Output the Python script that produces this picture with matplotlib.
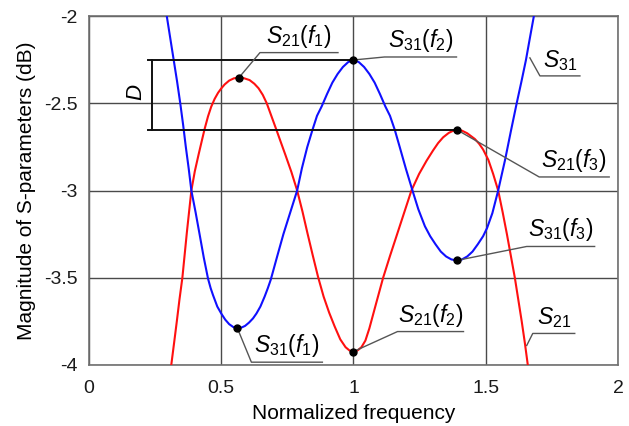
import numpy as np
import matplotlib
matplotlib.use("Agg")
import matplotlib.pyplot as plt
import matplotlib.transforms as mtransforms

plt.rcParams['font.family'] = ['Liberation Sans', 'DejaVu Sans']
plt.rcParams['mathtext.fontset'] = 'custom'
plt.rcParams['mathtext.rm'] = 'Liberation Sans'
plt.rcParams['mathtext.it'] = 'Liberation Sans:italic'

# S21 (red)
s21_f = [0.311, 0.322, 0.332, 0.342, 0.353, 0.370, 0.387, 0.400, 0.414, 0.425,
         0.437, 0.450, 0.462, 0.475, 0.488, 0.500, 0.513, 0.530, 0.548, 0.567,
         0.585, 0.607, 0.625, 0.641, 0.657, 0.672, 0.690, 0.708, 0.725, 0.743,
         0.765, 0.787, 0.807, 0.826, 0.846, 0.866, 0.887, 0.908, 0.929, 0.950,
         0.970, 0.985, 1.000, 1.015, 1.030, 1.045, 1.060, 1.085, 1.112, 1.138,
         1.165, 1.192, 1.219, 1.248, 1.276, 1.301, 1.320, 1.339, 1.360, 1.376,
         1.392, 1.410, 1.430, 1.459, 1.475, 1.490, 1.510, 1.528, 1.547, 1.564,
         1.580, 1.595, 1.610, 1.623, 1.636, 1.648, 1.659]
s21_db = [-4.000, -3.870, -3.750, -3.625, -3.500, -3.240, -3.000, -2.890, -2.796, -2.725,
          -2.648, -2.575, -2.520, -2.475, -2.440, -2.415, -2.392, -2.370, -2.357, -2.353,
          -2.356, -2.367, -2.388, -2.414, -2.452, -2.500, -2.575, -2.650, -2.722, -2.798,
          -2.893, -3.000, -3.120, -3.245, -3.372, -3.495, -3.608, -3.700, -3.780, -3.853,
          -3.898, -3.917, -3.923, -3.917, -3.898, -3.860, -3.790, -3.650, -3.500, -3.375,
          -3.250, -3.125, -3.000, -2.905, -2.830, -2.770, -2.728, -2.695, -2.670, -2.658,
          -2.653, -2.657, -2.672, -2.705, -2.732, -2.765, -2.825, -2.905, -3.000, -3.125,
          -3.250, -3.375, -3.500, -3.625, -3.750, -3.875, -4.000]

# S31 (blue)
s31_f = [0.294, 0.307, 0.320, 0.333, 0.345, 0.356, 0.366, 0.377, 0.387, 0.403,
         0.418, 0.434, 0.450, 0.460, 0.469, 0.485, 0.500, 0.515, 0.530, 0.545,
         0.561, 0.577, 0.590, 0.605, 0.620, 0.633, 0.648, 0.664, 0.676, 0.687,
         0.711, 0.735, 0.761, 0.787, 0.805, 0.825, 0.845, 0.862, 0.880, 0.900,
         0.920, 0.940, 0.960, 0.980, 1.000, 1.020, 1.040, 1.060, 1.080, 1.100,
         1.120, 1.138, 1.156, 1.175, 1.198, 1.223, 1.245, 1.270, 1.290, 1.310,
         1.330, 1.350, 1.370, 1.390, 1.410, 1.430, 1.450, 1.470, 1.490, 1.505,
         1.525, 1.547, 1.560, 1.573, 1.595, 1.617, 1.635, 1.652, 1.667, 1.682]
s31_db = [-2.000, -2.125, -2.250, -2.375, -2.500, -2.625, -2.750, -2.875, -3.000, -3.125,
          -3.250, -3.385, -3.505, -3.560, -3.600, -3.665, -3.705, -3.740, -3.766, -3.782,
          -3.789, -3.785, -3.776, -3.757, -3.733, -3.705, -3.665, -3.608, -3.560, -3.512,
          -3.380, -3.250, -3.125, -3.000, -2.872, -2.752, -2.652, -2.572, -2.517, -2.447,
          -2.382, -2.332, -2.292, -2.264, -2.252, -2.264, -2.292, -2.332, -2.382, -2.447,
          -2.517, -2.572, -2.652, -2.752, -2.875, -3.000, -3.107, -3.205, -3.262, -3.308,
          -3.350, -3.378, -3.395, -3.401, -3.395, -3.378, -3.350, -3.308, -3.262, -3.215,
          -3.130, -3.000, -2.912, -2.825, -2.660, -2.500, -2.375, -2.252, -2.125, -2.000]

# marked points
pt_s21_f1 = (0.567, -2.353)
pt_s21_f2 = (1.000, -3.923)
pt_s21_f3 = (1.392, -2.653)
pt_s31_f1 = (0.561, -3.789)
pt_s31_f2 = (1.000, -2.252)
pt_s31_f3 = (1.390, -3.401)

xticks = [0, 0.5, 1, 1.5, 2]
xticklabels = ['0', '0.5', '1', '1.5', '2']
yticks = [-4, -3.5, -3, -2.5, -2]
yticklabels = ['-4', '-3.5', '-3', '-2.5', '-2']

fig = plt.figure(figsize=(6.29, 4.26), dpi=100)
ax = fig.add_axes([0.1415, 0.1432, 0.8410, 0.8192])

ax.plot(s21_f, s21_db, color='#ff1010', lw=1.5, zorder=3)
ax.plot(s31_f, s31_db, color='#1010ff', lw=1.5, zorder=3)

pts = [pt_s21_f1, pt_s21_f2, pt_s21_f3, pt_s31_f1, pt_s31_f2, pt_s31_f3]
ax.plot([p[0] for p in pts], [p[1] for p in pts], 'o', color='black', ms=5, zorder=5)

ax.set_xlim(0, 2)
ax.set_ylim(-4, -2)
ax.set_xticks(xticks)
ax.set_xticklabels(xticklabels)
ax.set_yticks(yticks)
ax.set_yticklabels(yticklabels)
ax.tick_params(length=0, labelsize=14, colors='#1a1a1a')
ax.tick_params(axis='x', pad=11)
ax.tick_params(axis='y', pad=8)
ax.grid(color='#4a4a4a', lw=1.0)
ax.set_axisbelow(True)
for s in ax.spines.values():
    s.set_color('#707070')
    s.set_linewidth(1.2)
ax.set_xlabel('Normalized frequency', fontsize=15, labelpad=5)
ax.set_ylabel('Magnitude of S-parameters (dB)', fontsize=15, labelpad=6)

# D marker between S31(f2) and S21(f3)
d_x = 0.237
d_start = 0.224
ax.plot([d_start, pt_s31_f2[0]], [pt_s31_f2[1]] * 2, color='#111111', lw=1.4, zorder=4)
ax.plot([d_start, pt_s21_f3[0]], [pt_s21_f3[1]] * 2, color='#111111', lw=1.4, zorder=4)
ax.plot([d_x, d_x], [pt_s31_f2[1], pt_s21_f3[1]], color='#111111', lw=1.4, zorder=4)
ax.text(0.18, -2.435, '$D$', rotation=90, fontsize=16, ha='center', va='center')


def callout(x, y, text, dx, dy, length):
    # leader + underline, offsets in pixels from the point
    trans = mtransforms.ScaledTranslation(x, y, ax.transData)
    ax.plot([0, dx, dx + length], [0, dy, dy], color='#555555', lw=1.0,
            transform=trans, zorder=4, clip_on=False)
    ax.text(dx + length / 2, dy + 3, text, transform=trans, fontsize=16.5,
            ha='center', va='bottom')


callout(*pt_s21_f1, '$S_{21}(f_1)$', 21, 25, 78)
callout(*pt_s31_f2, '$S_{31}(f_2)$', 31, 3, 72)
callout(1.667, -2.24, '$S_{31}$', 10, -18, 40)
callout(*pt_s21_f3, '$S_{21}(f_3)$', 82, -47, 70)
callout(*pt_s31_f3, '$S_{31}(f_3)$', 70, 14, 68)
callout(*pt_s21_f2, '$S_{21}(f_2)$', 44, 20, 66)
callout(1.655, -3.888, '$S_{21}$', 6, 12, 42)
callout(*pt_s31_f1, '$S_{31}(f_1)$', 14, -34, 71)

fig.savefig('out.png', dpi=100)
